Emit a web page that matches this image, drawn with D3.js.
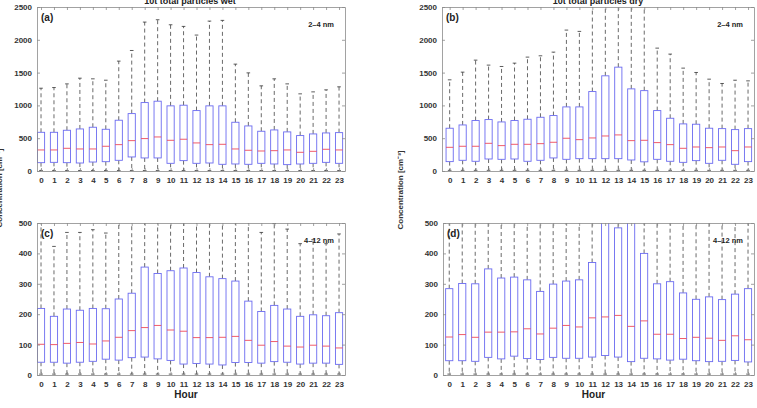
<!DOCTYPE html>
<html>
<head>
<meta charset="utf-8">
<script src="https://cdn.jsdelivr.net/npm/d3@7/dist/d3.min.js"></script>
<style>
  body { margin: 0; background: #fff; }
  text { font-family: Arial, "Liberation Sans", sans-serif; font-weight: bold; }
</style>
</head>
<body>
<svg id="fig" width="757" height="408"></svg>
<script>
// hours of the day
var hours = [0,1,2,3,4,5,6,7,8,9,10,11,12,13,14,15,16,17,18,19,20,21,22,23];
var ticksBig = [0, 500, 1000, 1500, 2000, 2500];
var ticksSmall = [0, 100, 200, 300, 400, 500];

// (a) 2-4 nm, wet
var wetSmallHi  = [1262,1272,1328,1415,1405,1384,1675,1837,2270,2306,2229,2204,2072,2285,2296,1629,1496,1298,1405,1328,1176,1206,1237,1283];
var wetSmallQ3  = [590,590,621,641,667,636,774,875,1043,1064,993,1003,921,993,993,743,687,606,626,596,540,565,580,585];
var wetSmallMed = [321,321,346,336,336,377,402,463,494,519,468,484,428,402,407,336,316,305,310,321,285,300,331,321];
var wetSmallQ1  = [127,132,127,122,137,142,163,214,199,199,117,158,117,122,102,107,102,117,107,97,107,117,132,117];
var wetSmallLo  = [8,8,8,8,8,8,8,8,8,8,8,8,8,8,8,8,8,8,8,8,8,8,8,8];

// (b) 2-4 nm, dry
var drySmallHi  = [1390,1507,1690,1614,1593,1644,1736,1756,1812,2148,2128,2700,2800,2800,2700,2600,1873,1782,1568,1502,1400,1334,1384,1374];
var drySmallQ3  = [652,702,769,784,748,769,789,819,845,977,977,1211,1451,1583,1252,1225,921,804,718,713,652,646,631,646];
var drySmallMed = [361,377,377,422,387,407,407,417,438,499,478,504,534,550,463,468,433,402,346,366,356,366,310,366];
var drySmallQ1  = [143,163,148,183,178,183,148,163,199,178,188,188,188,188,168,140,178,148,132,158,117,163,102,143];
var drySmallLo  = [10,10,10,10,10,10,10,10,10,10,10,10,10,10,10,10,10,10,10,10,10,10,10,10];

// (c) 4-12 nm, wet
var wetLargeHi  = [520,423,469,469,478,467,530,560,600,610,600,600,590,580,580,560,520,469,498,480,432,445,432,464];
var wetLargeQ3  = [219,193,217,213,219,218,250,269,355,334,343,352,337,323,317,309,243,209,229,217,193,198,195,205];
var wetLargeMed = [101,100,104,107,102,112,124,146,156,163,148,144,123,123,124,127,114,98,110,95,92,98,95,89];
var wetLargeQ1  = [42,42,39,42,45,52,49,57,59,53,48,36,38,36,33,41,41,39,44,42,36,39,39,35];
var wetLargeLo  = [3,3,3,3,3,3,3,3,3,3,3,3,3,3,3,3,3,3,3,3,3,3,3,3];

// (d) 4-12 nm, dry
var dryLargeHi  = [620,650,650,720,680,690,680,600,650,670,680,780,950,950,1000,820,650,660,580,540,560,540,580,620];
var dryLargeQ3  = [284,301,300,349,319,322,313,275,299,309,313,370,505,484,560,400,300,307,270,249,257,248,266,284];
var dryLargeMed = [125,133,124,141,141,142,152,135,154,163,158,188,191,196,160,178,134,134,120,124,121,114,129,116];
var dryLargeQ1  = [47,47,45,58,53,62,54,51,58,55,55,59,64,59,44,55,53,49,52,47,44,45,48,43];
var dryLargeLo  = [3,3,3,3,3,3,3,3,3,3,3,3,3,3,3,3,3,3,3,3,3,3,3,3];

var svg = d3.select("#fig");

var panels = [
  {id: "a", label: "(a)", size: "2\u20134 nm", x0: 37, x1: 345, y0: 7, y1: 171, dom: [-0.31, 23.46], ymax: 2500, ticks: ticksBig,
   hi: wetSmallHi, q3: wetSmallQ3, med: wetSmallMed, q1: wetSmallQ1, lo: wetSmallLo},
  {id: "b", label: "(b)", size: "2\u20134 nm", x0: 442, x1: 754, y0: 7, y1: 171, dom: [-0.59, 23.46], ymax: 2500, ticks: ticksBig,
   hi: drySmallHi, q3: drySmallQ3, med: drySmallMed, q1: drySmallQ1, lo: drySmallLo},
  {id: "c", label: "(c)", size: "4\u201312 nm", x0: 37, x1: 345, y0: 223, y1: 375, dom: [-0.31, 23.46], ymax: 500, ticks: ticksSmall,
   hi: wetLargeHi, q3: wetLargeQ3, med: wetLargeMed, q1: wetLargeQ1, lo: wetLargeLo, xlab: true},
  {id: "d", label: "(d)", size: "4\u201312 nm", x0: 443, x1: 754, y0: 223, y1: 375, dom: [-0.48, 23.46], ymax: 500, ticks: ticksSmall,
   hi: dryLargeHi, q3: dryLargeQ3, med: dryLargeMed, q1: dryLargeQ1, lo: dryLargeLo, xlab: true}
];

var frameCol = "#8a8a8a", textCol = "#333";

panels.forEach(function(p) {
  var x = d3.scaleLinear().domain(p.dom).range([p.x0, p.x1]);
  var y = d3.scaleLinear().domain([0, p.ymax]).range([p.y1, p.y0]);
  var hw = 3.6;

  svg.append("clipPath").attr("id", "clip" + p.id)
    .append("rect").attr("x", p.x0).attr("y", p.y0)
    .attr("width", p.x1 - p.x0).attr("height", p.y1 - p.y0);

  var g = svg.append("g").attr("clip-path", "url(#clip" + p.id + ")");

  // whiskers (dashed)
  g.selectAll(".wu").data(hours).enter().append("line")
    .attr("x1", function(d) { return x(d); }).attr("x2", function(d) { return x(d); })
    .attr("y1", function(d, i) { return y(p.q3[i]); }).attr("y2", function(d, i) { return y(p.hi[i]); })
    .attr("stroke", "#444").attr("stroke-width", 0.8).attr("stroke-dasharray", "4,3");
  g.selectAll(".wl").data(hours).enter().append("line")
    .attr("x1", function(d) { return x(d); }).attr("x2", function(d) { return x(d); })
    .attr("y1", function(d, i) { return y(p.q1[i]); }).attr("y2", function(d, i) { return y(p.lo[i]); })
    .attr("stroke", "#444").attr("stroke-width", 0.8).attr("stroke-dasharray", "4,3");
  // caps
  g.selectAll(".cu").data(hours).enter().append("line")
    .attr("x1", function(d) { return x(d) - 1.8; }).attr("x2", function(d) { return x(d) + 1.8; })
    .attr("y1", function(d, i) { return y(p.hi[i]); }).attr("y2", function(d, i) { return y(p.hi[i]); })
    .attr("stroke", "#333").attr("stroke-width", 0.8);
  g.selectAll(".cl").data(hours).enter().append("line")
    .attr("x1", function(d) { return x(d) - 1.8; }).attr("x2", function(d) { return x(d) + 1.8; })
    .attr("y1", function(d, i) { return y(p.lo[i]); }).attr("y2", function(d, i) { return y(p.lo[i]); })
    .attr("stroke", "#333").attr("stroke-width", 0.8);
  // boxes
  g.selectAll(".bx").data(hours).enter().append("rect")
    .attr("x", function(d) { return x(d) - hw; })
    .attr("width", hw * 2)
    .attr("y", function(d, i) { return y(p.q3[i]); })
    .attr("height", function(d, i) { return y(p.q1[i]) - y(p.q3[i]); })
    .attr("fill", "#fff").attr("stroke", "#6b6bf0").attr("stroke-width", 0.9);
  // medians
  g.selectAll(".md").data(hours).enter().append("line")
    .attr("x1", function(d) { return x(d) - hw; }).attr("x2", function(d) { return x(d) + hw; })
    .attr("y1", function(d, i) { return y(p.med[i]); }).attr("y2", function(d, i) { return y(p.med[i]); })
    .attr("stroke", "#ee4a5a").attr("stroke-width", 0.9);

  // axes on all four sides, ticks inside
  var ax = [
    svg.append("g").attr("transform", "translate(0," + p.y1 + ")")
      .call(d3.axisBottom(x).tickValues(hours).tickSizeInner(-3).tickSizeOuter(0).tickPadding(6)),
    svg.append("g").attr("transform", "translate(0," + p.y0 + ")")
      .call(d3.axisTop(x).tickValues(hours).tickSizeInner(-3).tickSizeOuter(0).tickFormat("")),
    svg.append("g").attr("transform", "translate(" + p.x0 + ",0)")
      .call(d3.axisLeft(y).tickValues(p.ticks).tickFormat(d3.format("d")).tickSizeInner(-3).tickSizeOuter(0).tickPadding(5)),
    svg.append("g").attr("transform", "translate(" + p.x1 + ",0)")
      .call(d3.axisRight(y).tickValues(p.ticks).tickSizeInner(-3).tickSizeOuter(0).tickFormat(""))
  ];
  ax.forEach(function(a) {
    a.select(".domain").attr("stroke", frameCol).attr("stroke-width", 0.8);
    a.selectAll(".tick line").attr("stroke", frameCol).attr("stroke-width", 0.8);
    a.selectAll(".tick text").attr("fill", textCol).style("font-size", "8px")
      .style("font-family", "Arial, 'Liberation Sans', sans-serif").style("font-weight", "bold");
  });

  svg.append("text").attr("x", p.x0 + 4).attr("y", p.y0 + 14)
    .attr("fill", "#222").style("font-size", "10px").text(p.label);
  svg.append("text").attr("x", p.x1 - 11).attr("y", p.y0 + 20)
    .attr("text-anchor", "end").attr("fill", "#222").style("font-size", "7.5px").text(p.size);

  if (p.xlab) {
    svg.append("text").attr("x", (p.x0 + p.x1) / 2 - 5).attr("y", 398)
      .attr("text-anchor", "middle").attr("fill", "#222").style("font-size", "10px").text("Hour");
  }
});

// titles, cut off at the top edge as in the source figure
svg.append("text").attr("x", 190).attr("y", 4).attr("text-anchor", "middle")
  .attr("fill", "#222").style("font-size", "9px").text("10t total particles wet");
svg.append("text").attr("x", 598).attr("y", 4).attr("text-anchor", "middle")
  .attr("fill", "#222").style("font-size", "9px").text("10t total particles dry");

// y labels
svg.append("text").attr("transform", "translate(403,190) rotate(-90)")
  .attr("text-anchor", "middle").attr("fill", "#333").style("font-size", "8px")
  .text("Concentration [cm\u207B\u00B3]");
svg.append("text").attr("transform", "translate(2,188) rotate(-90)")
  .attr("text-anchor", "middle").attr("fill", "#333").style("font-size", "8px")
  .text("Concentration [cm\u207B\u00B3]");
</script>
</body>
</html>
